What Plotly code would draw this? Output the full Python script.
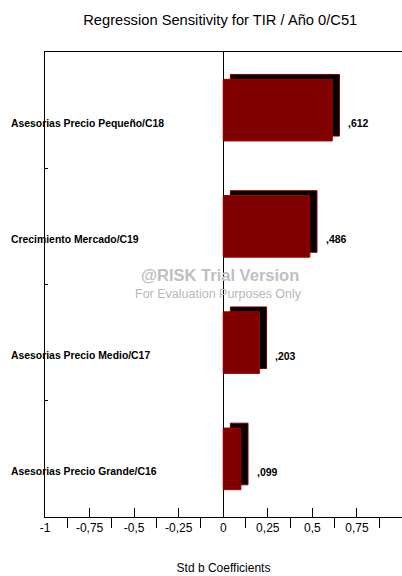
import plotly.graph_objects as go

# inputs ranked by std b coefficient, bottom to top
categories = [
    "Asesorias Precio Grande/C16",
    "Asesorias Precio Medio/C17",
    "Crecimiento Mercado/C19",
    "Asesorias Precio Pequeño/C18",
]
coefs = [0.099, 0.203, 0.486, 0.612]
tick_vals = [-1, -0.75, -0.5, -0.25, 0, 0.25, 0.5, 0.75, 1]
tick_text = ["-1", "-0,75", "-0,5", "-0,25", "0", "0,25", "0,5", "0,75", "1"]

FONT = "Liberation Sans, Arial, sans-serif"
pos = list(range(len(categories)))
depth_x = 0.04   # 3d depth, in data units
depth_y = 0.042
bar_w = 0.53


def fmt(v):
    return f"{v:.3f}".lstrip("0").replace(".", ",")


fig = go.Figure()
# back face (gives the 3d side / top)
fig.add_trace(go.Bar(
    x=coefs, y=[p + depth_y for p in pos], base=depth_x, orientation="h",
    width=bar_w, marker=dict(color="black", line=dict(color="#800000", width=1)),
    hoverinfo="skip", showlegend=False,
))
# front face
fig.add_trace(go.Bar(
    x=coefs, y=pos, orientation="h", width=bar_w,
    marker=dict(color="#800000", line=dict(color="#a00000", width=1)),
    showlegend=False,
))

for p, name, v in zip(pos, categories, coefs):
    fig.add_annotation(
        x=0, xref="paper", xanchor="left", xshift=-36, y=p, yshift=-13,
        text=f"<b>{name}</b>", showarrow=False,
        font=dict(family=FONT, size=10.4, color="black"),
    )
    fig.add_annotation(
        x=v, xanchor="left", xshift=14, y=p, yshift=-13,
        text=f"<b>{fmt(v)}</b>", showarrow=False,
        font=dict(family=FONT, size=10.5, color="black"),
    )

# evaluation watermark
fig.add_annotation(
    x=0.49, y=0.52, xref="paper", yref="paper", showarrow=False,
    text="<b>@RISK Trial Version</b>", font=dict(family=FONT, size=16.5, color="#c0c0c0"),
)
fig.add_annotation(
    x=0.485, y=0.48, xref="paper", yref="paper", showarrow=False,
    text="For Evaluation Purposes Only", font=dict(family=FONT, size=12.5, color="#b8b8b8"),
)

fig.update_layout(
    width=402, height=576,
    margin=dict(l=45, r=0, t=52, b=59),
    paper_bgcolor="white", plot_bgcolor="white",
    barmode="overlay",
    font=dict(family=FONT, color="black"),
    title=dict(
        text="Regression Sensitivity for TIR / Año 0/C51",
        x=0.548, xanchor="center", y=0.965, yanchor="middle",
        font=dict(family=FONT, size=14.7, color="black"),
    ),
    xaxis=dict(
        range=[-1, 1.003], showgrid=False, automargin=False,
        zeroline=True, zerolinecolor="black", zerolinewidth=1,
        showline=True, linecolor="black", linewidth=1, mirror=True,
        tickvals=tick_vals, ticktext=tick_text,
        ticks="inside", ticklen=9, tickcolor="black",
        minor=dict(tick0=0.125, dtick=0.25, ticks="outside", ticklen=10,
                   tickcolor="black", showgrid=False),
        tickfont=dict(family=FONT, size=12, color="black"),
        title=dict(text="Std b Coefficients", standoff=29,
                   font=dict(family=FONT, size=12, color="black")),
    ),
    yaxis=dict(
        range=[-0.5, 3.5], showgrid=False, zeroline=False, automargin=False,
        showline=True, linecolor="black", linewidth=1,
        tickvals=[0.5, 1.5, 2.5], ticktext=["", "", ""],
        ticks="inside", ticklen=3, tickcolor="black",
    ),
)

# drop the default page margin so the figure sits at the window corner
fig.write_html(
    "out.html",
    config={"displayModeBar": False},
    post_script="document.body.style.margin='0';",
)
